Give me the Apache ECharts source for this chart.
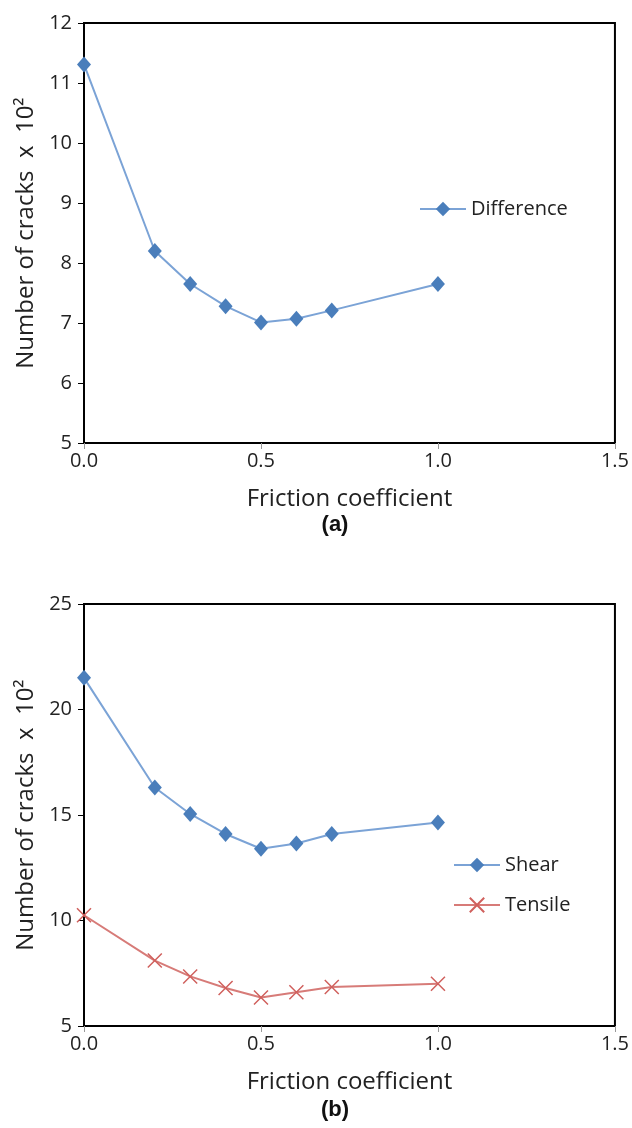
<!DOCTYPE html>
<html>
<head>
<meta charset="utf-8">
<script src="https://cdn.jsdelivr.net/npm/echarts@6/dist/echarts.min.js"></script>
<style>html,body{margin:0;padding:0;background:#fff}#c{width:632px;height:1128px}</style>
</head>
<body>
<div id="c"></div>
<script>
const friction = [0, 0.2, 0.3, 0.4, 0.5, 0.6, 0.7, 1.0];
const difference = [11.31, 8.2, 7.65, 7.28, 7.01, 7.07, 7.21, 7.65];
const shear = [21.5, 16.3, 15.05, 14.1, 13.4, 13.65, 14.1, 14.65];
const tensile = [10.25, 8.1, 7.35, 6.8, 6.35, 6.6, 6.85, 7.0];
const xTicks = [0, 0.5, 1.0, 1.5];
const yNameText = 'Number of cracks  x  10\u00B2';
const xNameText = 'Friction coefficient';

const FONT = 'Open Sans';
const pair = (xs, ys) => xs.map((x, i) => [x, ys[i]]);
const chart = echarts.init(document.getElementById('c'), null, {renderer: 'canvas'});

function xAxis(gi) {
  return {
    type: 'value', gridIndex: gi, min: xTicks[0], max: xTicks[xTicks.length - 1], interval: 0.5,
    name: xNameText, nameLocation: 'middle', nameGap: 44,
    nameTextStyle: {fontFamily: FONT, fontSize: 24, color: '#222'},
    axisLine: {show: true, lineStyle: {color: '#000', width: 2}},
    axisTick: {show: true, length: 6, lineStyle: {color: '#999', width: 1}},
    axisLabel: {fontFamily: FONT, fontSize: 20, color: '#222', margin: 8,
      formatter: v => v.toFixed(1)},
    splitLine: {show: false}
  };
}
function yAxis(gi, min, max, interval) {
  return {
    type: 'value', gridIndex: gi, min: min, max: max, interval: interval,
    name: yNameText, nameLocation: 'middle', nameGap: 41,
    nameTextStyle: {fontFamily: FONT, fontSize: 24, color: '#222'},
    axisLine: {show: true, lineStyle: {color: '#000', width: 2}},
    axisTick: {show: true, length: 6, lineStyle: {color: '#000', width: 1}},
    axisLabel: {fontFamily: FONT, fontSize: 20, color: '#222', margin: 12},
    splitLine: {show: false}
  };
}
const xSym = 'path://M0,0L10,10M10,0L0,10';

chart.setOption({
  animation: false,
  backgroundColor: '#fff',
  grid: [
    {left: 84, top: 23, width: 534, height: 420, show: true, borderColor: '#000', borderWidth: 2},
    {left: 84, top: 604, width: 534, height: 422, show: true, borderColor: '#000', borderWidth: 2}
  ],
  xAxis: [xAxis(0), xAxis(1)],
  yAxis: [yAxis(0, 5, 12, 1), yAxis(1, 5, 25, 5)],
  title: [
    {text: '(a)', left: 330, top: 509, textAlign: 'center',
      textStyle: {fontFamily: 'Liberation Sans', fontWeight: 'bold', fontSize: 22, color: '#111'}},
    {text: '(b)', left: 330, top: 1094, textAlign: 'center',
      textStyle: {fontFamily: 'Liberation Sans', fontWeight: 'bold', fontSize: 22, color: '#111'}}
  ],
  legend: [
    {data: ['Difference'], left: 414, top: 194, itemWidth: 46, itemHeight: 18, itemGap: 10,
      textStyle: {fontFamily: FONT, fontSize: 20, color: '#222'}},
    {data: ['Shear', 'Tensile'], left: 448, top: 850, orient: 'vertical', itemWidth: 46, itemHeight: 18, itemGap: 20,
      textStyle: {fontFamily: FONT, fontSize: 20, color: '#222'}}
  ],
  series: [
    {name: 'Difference', type: 'line', xAxisIndex: 0, yAxisIndex: 0,
      data: pair(friction, difference), symbol: 'diamond', symbolSize: [14, 16],
      lineStyle: {color: '#7ba3d6', width: 2}, itemStyle: {color: '#4a7ebb'}},
    {name: 'Shear', type: 'line', xAxisIndex: 1, yAxisIndex: 1,
      data: pair(friction, shear), symbol: 'diamond', symbolSize: [14, 16],
      lineStyle: {color: '#7ba3d6', width: 2}, itemStyle: {color: '#4a7ebb'}},
    {name: 'Tensile', type: 'line', xAxisIndex: 1, yAxisIndex: 1,
      data: pair(friction, tensile), symbol: xSym, symbolSize: 14,
      lineStyle: {color: '#d77b78', width: 2},
      itemStyle: {color: 'none', borderColor: '#d0605d', borderWidth: 1.5}}
  ]
});
</script>
</body>
</html>
